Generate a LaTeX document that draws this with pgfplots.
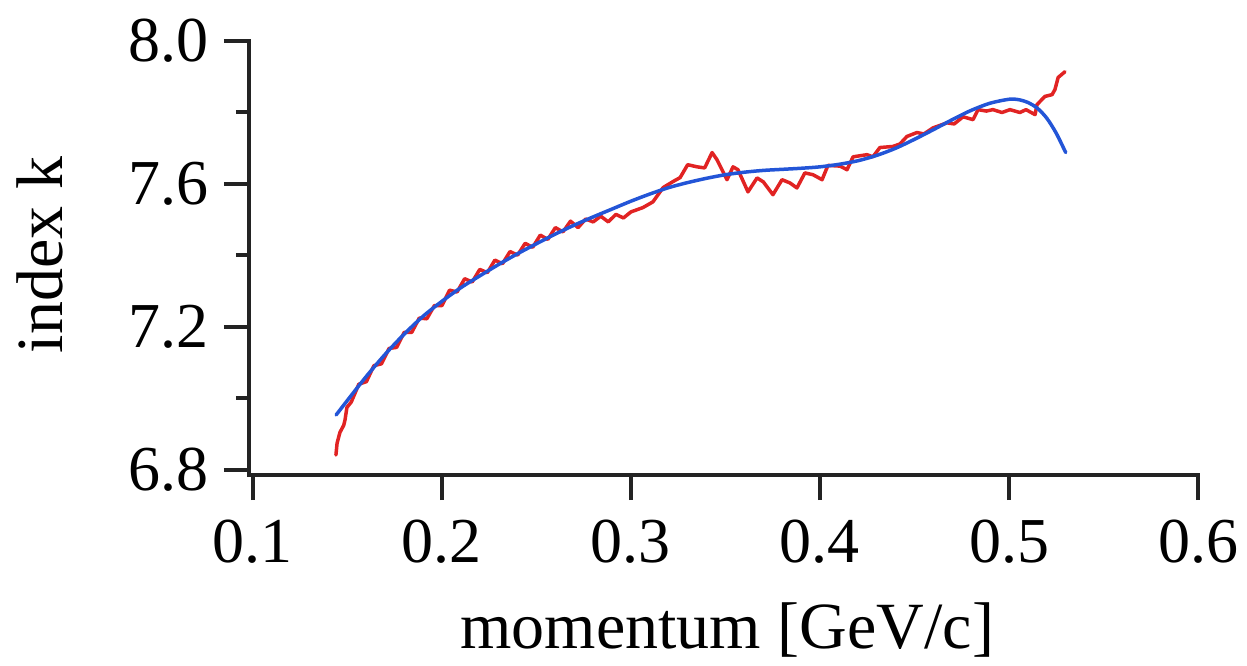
\documentclass[border=0pt]{standalone}
\usepackage{fontspec}
\setmainfont{Liberation Serif}
\usepackage{pgfplots}
\pgfplotsset{compat=1.18}
\definecolor{datared}{RGB}{225,35,35}
\definecolor{fitblue}{RGB}{35,85,215}
\definecolor{axisgray}{RGB}{35,35,35}
\begin{document}
\begin{tikzpicture}
\useasboundingbox (0pt,0pt) rectangle (1247pt,665pt);
\begin{axis}[
  at={(249pt,190pt)}, anchor=south west,
  scale only axis, width=949pt, height=434pt,
  xmin=0.0979, xmax=0.6, ymin=6.786, ymax=8.0,
  axis x line=bottom, axis y line=left,
  axis line style={-, line width=4pt, color=axisgray, line cap=rect},
  clip=false,
  xtick={0.1,0.2,0.3,0.4,0.5,0.6},
  ytick={6.8,7.2,7.6,8.0},
  minor ytick={7.0,7.4,7.8},
  tick align=outside,
  major tick length=25pt, minor tick length=13pt,
  every tick/.style={line width=4pt, color=axisgray},
  /pgf/number format/.cd, fixed, fixed zerofill, precision=1, assume math mode=true,
  /pgfplots/.cd,
  tick label style={font=\fontsize{64}{70}\selectfont, inner sep=0pt},
  xticklabel style={anchor=north, yshift=-20pt},
  yticklabel style={anchor=east, xshift=-15pt},
  xlabel={momentum [GeV/c]},
  ylabel={index k},
  label style={font=\fontsize{66}{72}\selectfont, inner sep=0pt},
  xlabel style={at={(axis description cs:0.504,-0.357)}, anchor=center},
  ylabel style={at={(axis description cs:-0.2202,0.507)}, anchor=center, rotate=0},
]
% measured index k (red)
\addplot[datared, line width=3.5pt, line join=round, line cap=round] coordinates {
(0.1439,6.842) (0.1445,6.875) (0.1460,6.905) (0.1480,6.925) (0.1487,6.940)
(0.1497,6.975) (0.152,6.990) (0.156,7.040) (0.160,7.047) (0.164,7.092)
(0.168,7.097) (0.172,7.140) (0.176,7.143) (0.180,7.185) (0.184,7.185)
(0.188,7.225) (0.192,7.223) (0.196,7.260) (0.200,7.260) (0.204,7.303)
(0.208,7.298) (0.212,7.335) (0.216,7.326) (0.220,7.361) (0.224,7.352)
(0.228,7.387) (0.232,7.377) (0.236,7.411) (0.240,7.401) (0.244,7.434)
(0.248,7.423) (0.252,7.457) (0.256,7.445) (0.260,7.478) (0.264,7.466)
(0.268,7.496) (0.272,7.478) (0.276,7.502) (0.280,7.494) (0.284,7.510)
(0.288,7.494) (0.292,7.515) (0.296,7.505) (0.300,7.522) (0.3063,7.534)
(0.3116,7.550) (0.3170,7.590) (0.3220,7.606) (0.3260,7.618) (0.3300,7.654)
(0.3350,7.648) (0.3390,7.645) (0.3429,7.688) (0.3455,7.668) (0.3508,7.612)
(0.3540,7.648) (0.3566,7.640) (0.3619,7.578) (0.3667,7.617) (0.3700,7.606)
(0.3751,7.570) (0.3799,7.612) (0.3841,7.603) (0.3878,7.589) (0.3920,7.631)
(0.3963,7.626) (0.4011,7.612) (0.4042,7.652) (0.4106,7.650) (0.4143,7.640)
(0.4175,7.676) (0.4249,7.682) (0.4280,7.676) (0.4317,7.702) (0.4386,7.705)
(0.4423,7.712) (0.4460,7.733) (0.4513,7.744) (0.4550,7.740) (0.4598,7.757)
(0.4672,7.771) (0.4710,7.768) (0.4757,7.788) (0.4810,7.780) (0.4836,7.808)
(0.4880,7.804) (0.4915,7.808) (0.4963,7.800) (0.5005,7.808) (0.5058,7.800)
(0.5090,7.808) (0.5138,7.794) (0.5148,7.822) (0.5190,7.845) (0.5228,7.850)
(0.5243,7.864) (0.5260,7.898) (0.5296,7.914)
};
% polynomial fit (blue)
\addplot[fitblue, line width=3.5pt, smooth, line cap=round] coordinates {
(0.144,6.954) (0.15,6.995) (0.16,7.062) (0.17,7.124) (0.18,7.180)
(0.19,7.230) (0.20,7.272) (0.21,7.310) (0.22,7.343) (0.23,7.375)
(0.24,7.405) (0.25,7.433) (0.26,7.460) (0.27,7.485) (0.28,7.508)
(0.29,7.530) (0.30,7.552) (0.31,7.572) (0.32,7.590) (0.33,7.604)
(0.34,7.616) (0.35,7.626) (0.36,7.633) (0.37,7.638) (0.38,7.641)
(0.39,7.644) (0.40,7.648) (0.41,7.655) (0.42,7.665) (0.43,7.680)
(0.44,7.700) (0.45,7.725) (0.46,7.752) (0.47,7.780) (0.48,7.806)
(0.49,7.826) (0.50,7.837) (0.505,7.836) (0.51,7.828) (0.515,7.812)
(0.52,7.784) (0.525,7.742) (0.53,7.688)
};
\end{axis}
\end{tikzpicture}
\end{document}
